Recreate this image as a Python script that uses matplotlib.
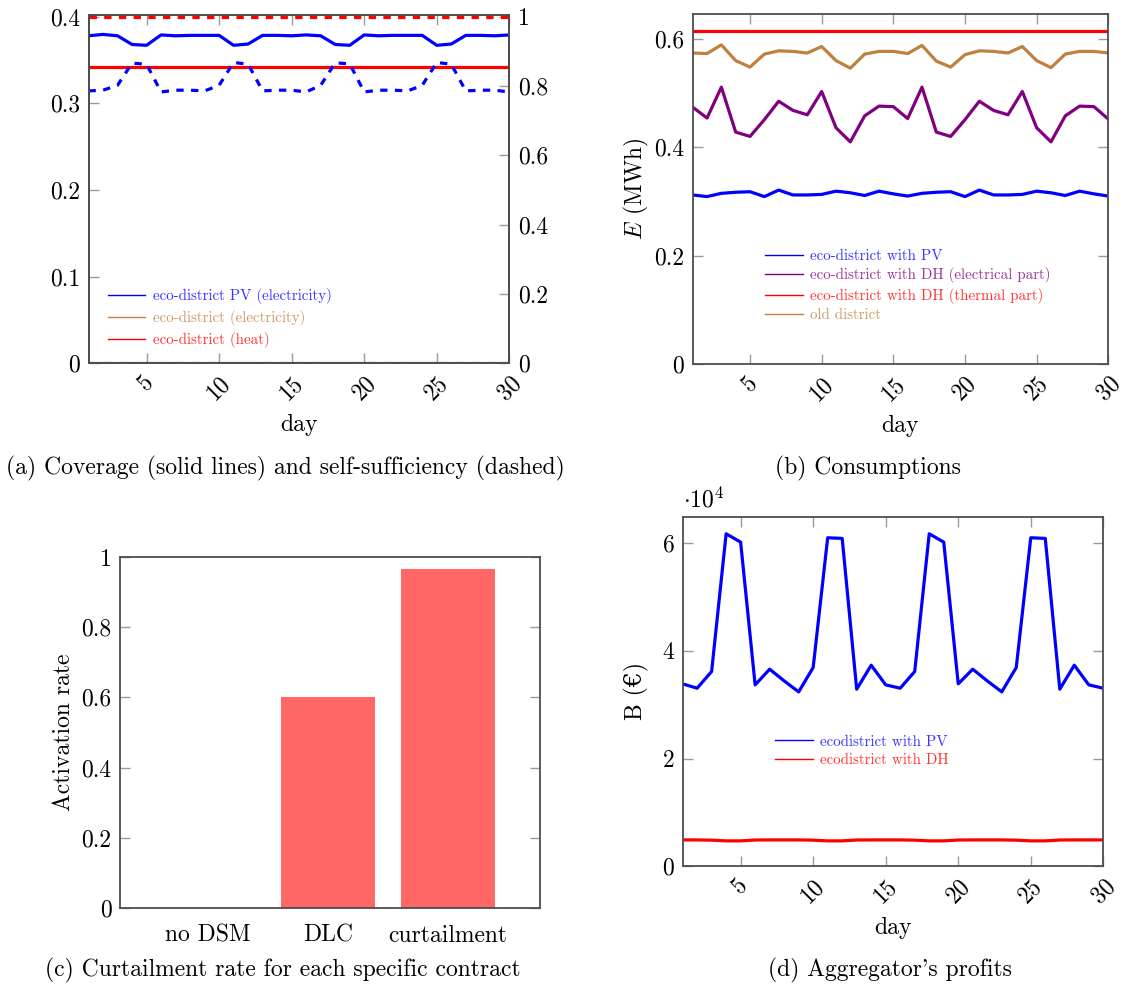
import matplotlib
matplotlib.use("Agg")
import matplotlib.pyplot as plt
from matplotlib.ticker import FuncFormatter

plt.rcParams['font.family'] = ['cmr10', 'DejaVu Serif']
plt.rcParams['mathtext.fontset'] = 'cm'
plt.rcParams['axes.formatter.use_mathtext'] = True

# ---------------- data ----------------
days = list(range(1, 31))

# (a) coverage (left axis) and self-sufficiency (right axis)
pv_coverage = [0.378, 0.3796, 0.378, 0.368, 0.367, 0.379, 0.378, 0.3785, 0.3785, 0.3785,
               0.367, 0.3685, 0.3785, 0.3785, 0.378, 0.379, 0.378, 0.368, 0.367, 0.379,
               0.378, 0.3785, 0.3785, 0.3785, 0.367, 0.3685, 0.3785, 0.3785, 0.378, 0.379]
pv_selfsuff = [0.786, 0.788, 0.802, 0.866, 0.863, 0.783, 0.788, 0.788, 0.786, 0.802,
               0.868, 0.863, 0.786, 0.788, 0.788, 0.783, 0.802, 0.867, 0.864, 0.783,
               0.788, 0.788, 0.786, 0.802, 0.868, 0.863, 0.786, 0.788, 0.788, 0.783]
elec_coverage = [0.0] * 30
elec_selfsuff = [0.0] * 30
heat_coverage = [0.342] * 30
heat_selfsuff = [1.0] * 30

# (b) consumptions (MWh)
cons_pv = [0.312, 0.309, 0.315, 0.317, 0.318, 0.309, 0.321, 0.312, 0.312, 0.313,
           0.319, 0.316, 0.311, 0.319, 0.314, 0.310, 0.315, 0.317, 0.318, 0.309,
           0.321, 0.312, 0.312, 0.313, 0.319, 0.316, 0.311, 0.319, 0.314, 0.310]
cons_dh_elec = [0.474, 0.454, 0.511, 0.428, 0.420, 0.451, 0.485, 0.468, 0.460, 0.503,
                0.436, 0.410, 0.458, 0.476, 0.475, 0.453, 0.511, 0.428, 0.420, 0.451,
                0.485, 0.468, 0.460, 0.503, 0.436, 0.410, 0.458, 0.476, 0.475, 0.452]
cons_dh_therm = [0.615] * 30
cons_old = [0.574, 0.573, 0.589, 0.560, 0.548, 0.572, 0.578, 0.577, 0.574, 0.586,
            0.560, 0.546, 0.572, 0.577, 0.577, 0.573, 0.588, 0.559, 0.548, 0.571,
            0.578, 0.577, 0.574, 0.586, 0.560, 0.547, 0.572, 0.577, 0.577, 0.574]

# (c) activation rate per contract
contracts = ['no DSM', 'DLC', 'curtailment']
activation = [0.0, 0.6, 0.967]

# (d) aggregator profits (EUR)
profit_pv = [33870, 33060, 36160, 61730, 60180, 33680, 36590, 34420, 32380, 36900,
             60990, 60870, 32880, 37330, 33680, 33060, 36160, 61730, 60180, 33870,
             36590, 34420, 32380, 36900, 60990, 60870, 32880, 37330, 33680, 33060]
profit_dh = [4900, 4900, 4850, 4720, 4720, 4880, 4900, 4900, 4900, 4850,
             4720, 4720, 4880, 4900, 4900, 4900, 4850, 4720, 4720, 4880,
             4900, 4900, 4900, 4850, 4720, 4720, 4880, 4900, 4900, 4900]

xticks_day = [5, 10, 15, 20, 25, 30]

# ---------------- style ----------------
BLUE = '#0000FF'
RED = '#FF0000'
BROWN = '#BF8040'
PURPLE = '#800080'
BAR = '#FF6666'
SPINE = '#4d4d4d'
TICK = '#9a9a9a'
FS = 17
LFS = 10.8
LW = 2.3

W, H = 1131, 991
fig = plt.figure(figsize=(W / 100, H / 100), dpi=100)


def px_axes(l, t, r, b):
    return fig.add_axes([l / W, 1 - b / H, (r - l) / W, (b - t) / H])


def style(ax, top=True, right=True):
    for s in ax.spines.values():
        s.set_color(SPINE)
        s.set_linewidth(1.3)
    ax.tick_params(direction='in', length=7, width=1, color=TICK,
                   top=top, right=right, labelsize=FS, pad=6)


gfmt = FuncFormatter(lambda v, _: f"{v:g}")


def day_axis(ax):
    ax.set_xlim(1, 30)
    ax.set_xticks(xticks_day)
    ax.set_xticklabels([str(d) for d in xticks_day], rotation=45, ha='center', va='top')
    ax.set_xlabel('day', fontsize=FS, labelpad=7)


def legend(ax, x, y, colors, spacing):
    leg = ax.legend(loc='upper left', bbox_to_anchor=(x, y), frameon=False,
                    fontsize=LFS, handlelength=2.5, handletextpad=0.5,
                    labelspacing=spacing, borderpad=0, borderaxespad=0)
    for line in leg.get_lines():
        line.set_linewidth(1.0)
        line.set_linestyle('-')
    for t, c in zip(leg.get_texts(), colors):
        t.set_color(c)
        t.set_alpha(0.8)
    return leg


# ---------------- (a) ----------------
axa = px_axes(88.5, 15, 509.3, 363.3)
axa2 = axa.twinx()
axa.plot(days, pv_coverage, color=BLUE, lw=LW, label='eco-district PV (electricity)')
axa.plot(days, elec_coverage, color=BROWN, lw=LW, label='eco-district (electricity)')
axa.plot(days, heat_coverage, color=RED, lw=LW, label='eco-district (heat)')
axa2.plot(days, pv_selfsuff, color=BLUE, lw=LW, ls=(0, (2.3, 2.3)))
axa2.plot(days, elec_selfsuff, color=BROWN, lw=LW, ls=(0, (2.3, 2.3)))
axa2.plot(days, heat_selfsuff, color=RED, lw=LW, ls=(0, (2.3, 2.3)))
axa.set_ylim(0, 0.402)
axa2.set_ylim(0, 1.005)
axa.set_yticks([0, 0.1, 0.2, 0.3, 0.4])
axa2.set_yticks([0, 0.2, 0.4, 0.6, 0.8, 1.0])
axa.yaxis.set_major_formatter(gfmt)
axa2.yaxis.set_major_formatter(gfmt)
style(axa, top=True, right=False)
style(axa2, top=False, right=True)
axa2.tick_params(left=False)
day_axis(axa)
legend(axa, 0.046, 0.215, [BLUE, BROWN, RED], 0.38)

# ---------------- (b) ----------------
axb = px_axes(692.7, 14, 1108.3, 364)
axb.plot(days, cons_pv, color=BLUE, lw=LW, label='eco-district with PV')
axb.plot(days, cons_dh_elec, color=PURPLE, lw=LW, label='eco-district with DH (electrical part)')
axb.plot(days, cons_dh_therm, color=RED, lw=LW, label='eco-district with DH (thermal part)')
axb.plot(days, cons_old, color=BROWN, lw=LW, label='old district')
axb.set_ylim(0, 0.646)
axb.set_yticks([0, 0.2, 0.4, 0.6])
axb.yaxis.set_major_formatter(gfmt)
style(axb)
day_axis(axb)
axb.set_ylabel('$E$ (MWh)', fontsize=FS, labelpad=2)
legend(axb, 0.174, 0.328, [BLUE, PURPLE, RED, BROWN], 0.3)

# ---------------- (c) ----------------
axc = px_axes(120, 557, 540, 908)
xpos = list(range(len(contracts)))
axc.bar(xpos, activation, width=0.78, color=BAR)
axc.set_xlim(-0.733, 2.767)
axc.set_ylim(0, 1.0)
axc.set_xticks(xpos)
axc.set_xticklabels(contracts)
axc.set_yticks([0, 0.2, 0.4, 0.6, 0.8, 1.0])
axc.yaxis.set_major_formatter(gfmt)
style(axc)
axc.tick_params(axis='x', length=0, pad=12)
axc.set_ylabel('Activation rate', fontsize=FS, labelpad=5)

# ---------------- (d) ----------------
axd = px_axes(682.6, 516.7, 1103.3, 866.3)
axd.plot(days, profit_pv, color=BLUE, lw=LW, label='ecodistrict with PV')
axd.plot(days, profit_dh, color=RED, lw=LW, label='ecodistrict with DH')
axd.set_ylim(0, 64900)
axd.set_yticks([0, 20000, 40000, 60000])
axd.yaxis.set_major_formatter(FuncFormatter(lambda v, _: f"{v / 1e4:g}"))
style(axd)
day_axis(axd)
axd.set_ylabel('B (€)', fontsize=FS, labelpad=10, family=['cmr10', 'DejaVu Serif'])
axd.text(0.0, 1.012, r'$\cdot10^4$', transform=axd.transAxes, fontsize=FS,
         ha='left', va='bottom')
legend(axd, 0.22, 0.376, [BLUE, RED], 0.3)

# ---------------- captions ----------------
fig.text(285 / W, 1 - 468 / H, '(a) Coverage (solid lines) and self-sufficiency (dashed)',
         fontsize=FS, ha='center', va='center')
fig.text(868 / W, 1 - 468 / H, '(b) Consumptions', fontsize=FS, ha='center', va='center')
fig.text(283 / W, 1 - 970 / H, '(c) Curtailment rate for each specific contract',
         fontsize=FS, ha='center', va='center')
fig.text(890 / W, 1 - 970 / H, "(d) Aggregator's profits", fontsize=FS, ha='center', va='center')

fig.savefig('out.png', dpi=100)
